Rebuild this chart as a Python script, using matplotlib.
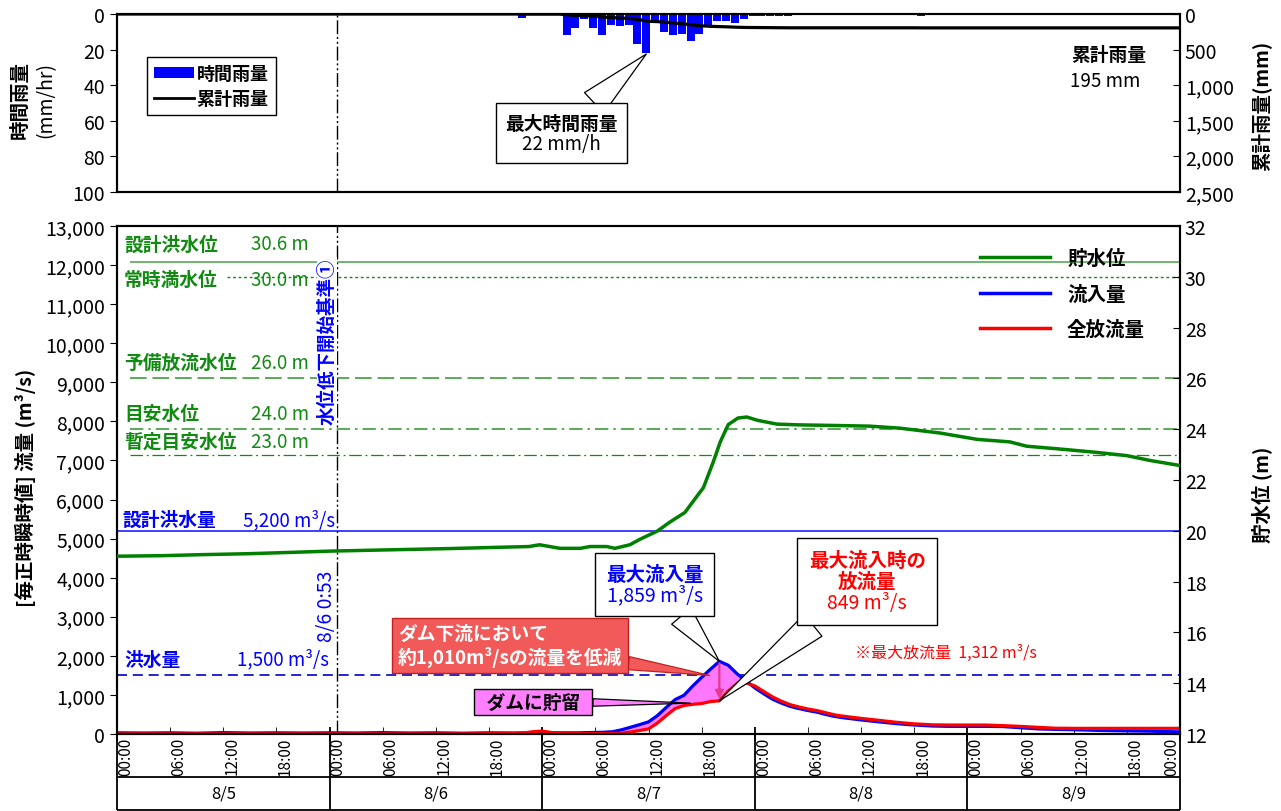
import numpy as np
import matplotlib.pyplot as plt
from matplotlib.patches import Patch
from matplotlib.lines import Line2D
from matplotlib.text import Text
from matplotlib.transforms import IdentityTransform
from matplotlib.ticker import FuncFormatter, MultipleLocator

plt.rcParams['font.family'] = ['Noto Sans CJK JP', 'DejaVu Sans']

# ---------------- data ----------------
# hourly rainfall (hour index from 8/5 00:00, mm)
rain_hours = [45, 50, 51, 52, 53, 54, 55, 56, 57, 58, 59, 60, 61, 62, 63, 64,
              65, 66, 67, 68, 69, 70, 71, 72, 73, 74, 75, 90]
rain_mm = [2, 12, 8, 3, 8, 12, 6, 7, 6, 17, 22, 4, 10, 12, 11, 15,
           11, 7, 4, 4, 5, 3, 1, 1, 1, 1, 1, 1]

# reservoir water level (m)
level_hours = [0, 5, 9.5, 15, 20.5, 24, 32, 37.5, 43, 46.5, 47.7, 50, 52.3, 53.4,
               55.3, 56.2, 57.9, 59, 61, 62.4, 64.1, 66.2, 67.3, 68.1, 69, 70.1,
               71.1, 72.3, 74.5, 77, 80.5, 85, 88.4, 92.9, 97.1, 100.8, 102.7,
               106.1, 110.2, 114, 116.6, 120]
level_m = [19.0, 19.02, 19.06, 19.1, 19.16, 19.2, 19.26, 19.3, 19.35, 19.38, 19.45,
           19.31, 19.31, 19.38, 19.38, 19.31, 19.45, 19.66, 19.99, 20.34, 20.72,
           21.7, 22.7, 23.5, 24.18, 24.44, 24.48, 24.35, 24.2, 24.17, 24.15, 24.12,
           24.04, 23.85, 23.6, 23.5, 23.33, 23.23, 23.1, 22.96, 22.77, 22.57]

# inflow / total outflow (m3/s)
flow_hours = [0, 3, 6, 9, 12, 15, 18, 21, 24, 27, 30, 33, 36, 39, 42, 45,
              46, 47, 48, 49, 50, 52, 54, 55, 56, 57, 58, 59, 60,
              61, 62, 63, 64, 65, 66, 67, 68, 69,
              70, 71, 72, 73, 74, 75, 76, 77, 78, 79, 80, 81, 82,
              84, 86, 88, 90, 92, 94, 96, 98, 100, 102, 104, 106, 108,
              111, 114, 117, 120]
inflow = [30, 25, 30, 20, 35, 25, 30, 25, 30, 25, 35, 25, 30, 20, 30, 25,
          30, 35, 35, 30, 30, 30, 40, 45, 60, 110, 175, 240, 310,
          470, 680, 880, 990, 1230, 1450, 1660, 1859, 1760,
          1540, 1360, 1180, 1030, 890, 790, 705, 650, 600, 560, 500, 450, 415,
          360, 310, 265, 230, 205, 195, 195, 195, 190, 160, 130, 118, 110,
          90, 80, 70, 55]
outflow = [5, 5, 5, 5, 5, 5, 5, 5, 5, 5, 5, 5, 5, 5, 10, 15,
           30, 60, 75, 40, 15, 10, 10, 10, 15, 20, 50, 90, 130,
           280, 470, 650, 730, 760, 780, 830, 849, 1100,
           1290, 1312, 1230, 1090, 950, 840, 750, 690, 640, 600, 545, 490, 455,
           400, 350, 300, 260, 235, 230, 230, 230, 215, 195, 170, 148, 145,
           145, 145, 145, 145]

level_names = ['設計洪水位', '常時満水位', '予備放流水位', '目安水位', '暫定目安水位']
level_values = [30.6, 30.0, 26.0, 24.0, 23.0]
flood_names = ['設計洪水量', '洪水量']
flood_values = [5200, 1500]

days = ['8/5', '8/6', '8/7', '8/8', '8/9']
hour_labels = ['00:00', '06:00', '12:00', '18:00']
lowering_start = 24 + 53 / 60   # 8/6 0:53
peak_hour = 68
max_rain_hour = 59
reduction = 1010

GREEN = '#118a11'
LGREEN = '#3c9c3c'
BLUE = '#0000ff'
RED = '#ff0000'

fig = plt.figure(figsize=(12.81, 8.12), dpi=100)
L = 117 / 1281
W = (1180 - 117) / 1281
ax_r = fig.add_axes([L, 1 - 193 / 812, W, 178 / 812])
ax = fig.add_axes([L, 1 - 735 / 812, W, 508 / 812])
ax_t = fig.add_axes([L, 1 - 811 / 812, W, 76 / 812])

overlays = []


def callout(axis, xy, box_xy, lines, color, weights, size, tail, pad=0.45,
            fc='white', ec='black'):
    # box + wedge sized with full-width blanks, real lines are laid over it later
    width = max(sum(1 for c in ln if ord(c) > 0x2000) for ln in lines)
    blank = '\n'.join(['\u3000' * width] * len(lines))
    ann = axis.annotate(blank, xy=xy, xytext=box_xy, ha='center', va='center',
                        fontsize=size, fontweight='bold',
                        bbox=dict(boxstyle='square,pad=%s' % pad, fc=fc, ec=ec, lw=1),
                        arrowprops=dict(arrowstyle='wedge,tail_width=%s,shrink_factor=0.5' % tail,
                                        fc=fc, ec=ec, lw=0.9, shrinkA=0, shrinkB=0),
                        zorder=6)
    overlays.append((ann, lines, color, weights, size))


# ---------------- rainfall panel ----------------
ax_r.bar(np.array(rain_hours) + 0.75, rain_mm, width=0.9, color=BLUE, zorder=2)
ax_r.set_xlim(0, 120)
ax_r.set_ylim(100, 0)
ax_r.set_yticks(range(0, 101, 20))
ax_r.set_xticks([])
ax_r.tick_params(axis='y', labelsize=14, direction='out', length=5)
ax_r.axvline(lowering_start, color='black', lw=1, ls=(0, (10, 2, 1.5, 2, 1.5, 2)))

rain_full = np.zeros(120)
rain_full[rain_hours] = rain_mm
cum = np.concatenate([[0], np.cumsum(rain_full)])
ax_rc = ax_r.twinx()
ax_rc.plot(np.arange(121), cum, color='black', lw=2.3)
ax_rc.set_ylim(2500, 0)
ax_rc.set_yticks(range(0, 2501, 500))
ax_rc.yaxis.set_major_formatter(FuncFormatter(lambda v, p: f'{int(v):,}'))
ax_rc.tick_params(axis='y', labelsize=14, direction='in', length=5)
for a in (ax_r, ax_rc):
    for s in a.spines.values():
        s.set_linewidth(1.5)

ax_r.legend(handles=[Patch(facecolor=BLUE, label='時間雨量'),
                     Line2D([], [], color='black', lw=2, label='累計雨量')],
            loc='upper left', bbox_to_anchor=(0.028, 0.76), fancybox=False,
            edgecolor='black', framealpha=1, prop={'weight': 'bold', 'size': 13},
            handlelength=2.2, handleheight=0.5, handletextpad=0.15,
            borderpad=0.4, labelspacing=0.35, borderaxespad=0)

ax_r.text(111.9, 22.5, '累計雨量', ha='center', va='center', fontsize=13.5, fontweight='bold')
ax_r.text(111.6, 37.6, f'{int(cum[-1])} mm', ha='center', va='center', fontsize=13.5)

callout(ax_r, (max_rain_hour + 0.75, rain_mm[rain_hours.index(max_rain_hour)] + 0.5),
        (50.2, 67), ['最大時間雨量', f'{max(rain_mm)} mm/h'], 'black',
        ['bold', 'normal'], 13.5, 1.5, pad=0.5)

# ---------------- flow / water level panel ----------------
ax.set_xlim(0, 120)
ax.set_ylim(0, 13000)
ax.set_yticks(range(0, 13001, 1000))
ax.yaxis.set_major_formatter(FuncFormatter(lambda v, p: f'{int(v):,}'))
ax.tick_params(axis='y', labelsize=14, direction='out', length=5)
ax.xaxis.set_major_locator(MultipleLocator(24))
ax.xaxis.set_minor_locator(MultipleLocator(6))
ax.tick_params(axis='x', which='major', direction='inout', length=10, width=1.3, labelbottom=False)
ax.tick_params(axis='x', which='minor', direction='in', length=5, labelbottom=False)

fh = np.array(flow_hours, dtype=float)
qin = np.array(inflow, dtype=float)
qout = np.array(outflow, dtype=float)
ax.fill_between(fh, qin, qout, where=(qin >= qout) & (fh >= 56) & (fh <= 72),
                interpolate=True, color='#ff78ff', lw=0, zorder=2)
ax.plot(fh, qin, color=BLUE, lw=2.3, zorder=3)
ax.plot(fh, qout, color=RED, lw=2.3, zorder=4)

ax.axhline(flood_values[0], color='#1f1fff', lw=1.2, zorder=1)
ax.axhline(flood_values[1], color='#0000c8', lw=1.2, ls=(0, (6, 3.5)), zorder=1)
ax.text(0.6, 5490, flood_names[0], color=BLUE, fontsize=13.5, va='center', fontweight='bold')
ax.text(14.2, 5490, f'{flood_values[0]:,} m³/s', color=BLUE, fontsize=13.5, va='center')
ax.text(0.8, 1915, flood_names[1], color=BLUE, fontsize=13.5, va='center', fontweight='bold')
ax.text(13.6, 1915, f'{flood_values[1]:,} m³/s', color=BLUE, fontsize=13.5, va='center')

ax.axvline(lowering_start, color='black', lw=1, ls=(0, (10, 2, 1.5, 2, 1.5, 2)), zorder=1)

ax.annotate('', xy=(peak_hour, 900), xytext=(peak_hour, 1810),
            arrowprops=dict(arrowstyle='-|>', color='#e8388c', lw=1.6, mutation_scale=12,
                            shrinkA=0, shrinkB=0), zorder=5)

callout(ax, (peak_hour, max(inflow)), (60.7, 3830),
        ['最大流入量', f'{max(inflow):,} m³/s'], BLUE, ['bold', 'normal'], 14, 1.3, pad=0.55)
callout(ax, (peak_hour, outflow[flow_hours.index(peak_hour)]), (84.7, 3900),
        ['最大流入時の', '放流量', f'{outflow[flow_hours.index(peak_hour)]} m³/s'], RED,
        ['bold', 'bold', 'normal'], 14, 1.45, pad=0.6)

ax.annotate(f'ダム下流において\n約{reduction:,}m³/sの流量を低減', xy=(66.9, 1500), xytext=(44.4, 2270),
            ha='center', va='center', multialignment='left', fontsize=13.5, fontweight='bold',
            color='white',
            bbox=dict(boxstyle='square,pad=0.3', fc='#f25a5a', ec='#c02020', lw=1),
            arrowprops=dict(arrowstyle='wedge,tail_width=0.7,shrink_factor=0.5',
                            fc='#f25a5a', ec='#c02020', lw=0.9, shrinkA=0, shrinkB=0),
            zorder=6)
ax.annotate('  ダムに貯留  ', xy=(64.7, 790), xytext=(47, 817),
            ha='center', va='center', fontsize=13.5, fontweight='bold', color='black',
            bbox=dict(boxstyle='square,pad=0.2', fc='#ff80ff', ec='black', lw=1),
            arrowprops=dict(arrowstyle='wedge,tail_width=0.4,shrink_factor=0.5',
                            fc='#ff80ff', ec='black', lw=0.9, shrinkA=0, shrinkB=0),
            zorder=6)
ax.text(83.3, 2090, f'※最大放流量  {max(outflow):,} m³/s', color=RED, fontsize=11.5,
        va='center', ha='left')

# water level axis
ax2 = ax.twinx()
ax2.set_ylim(12, 32)
ax2.set_yticks(range(12, 33, 2))
ax2.tick_params(axis='y', labelsize=14, direction='in', length=5)
ax2.plot(level_hours, level_m, color='#008000', lw=2.5, zorder=4)

level_styles = [('-', 1.2, '#55aa55', 1.5), ((0, (2, 2)), 1.0, GREEN, 12.4),
                ((0, (10, 3.5)), 1.2, LGREEN, 1.5), ((0, (8, 3, 1.5, 3)), 1.2, LGREEN, 1.5),
                ((0, (10, 3, 1.5, 3)), 0.9, GREEN, 1.5)]
label_dy = [0.7, -0.12, 0.62, 0.61, 0.51]
for nm, v, (st, lw, col, x0), dy in zip(level_names, level_values, level_styles, label_dy):
    ax2.hlines(v, x0, 120, colors=col, lw=lw, linestyles=[st], zorder=1)
    ax2.text(0.8, v + dy, nm, color=GREEN, fontsize=13.5, va='center', fontweight='bold')
    ax2.text(15.1, v + dy, f'{v:.1f} m', color=GREEN, fontsize=13.5, va='center')

ax2.text(23.7, 27.48, '水位低下開始基準①', rotation=90, color=BLUE, fontsize=13.3,
         fontweight='bold', ha='center', va='center',
         bbox=dict(boxstyle='square,pad=0.05', fc='white', ec='none'), zorder=5)
ax2.text(23.7, 17.05, '8/6 0:53', rotation=90, color=BLUE, fontsize=14,
         ha='center', va='center', zorder=5)

ax2.legend(handles=[Line2D([], [], color='#008000', lw=2.5, label='貯水位'),
                    Line2D([], [], color=BLUE, lw=2.5, label='流入量'),
                    Line2D([], [], color=RED, lw=2.5, label='全放流量')],
           loc='upper left', bbox_to_anchor=(0.795, 0.99), frameon=False,
           prop={'weight': 'bold', 'size': 14}, handlelength=3.6, labelspacing=0.85,
           handletextpad=0.9)

for a in (ax, ax2):
    for s in a.spines.values():
        s.set_linewidth(1.5)

# ---------------- time / date table ----------------
ax_t.set_xlim(0, 120)
ax_t.set_ylim(0, 1)
ax_t.axis('off')
sep = (811 - 778) / 76
ax_t.vlines(range(0, 121, 24), 0, 1, colors='black', lw=1.3, clip_on=False)
ax_t.hlines([0, sep], 0, 120, colors='black', lw=1.3, clip_on=False)
for h in range(0, 121, 6):
    ax_t.text(h, 0.97, hour_labels[(h // 6) % 4], rotation=90, ha='left' if h < 120 else 'right',
              va='top', fontsize=11)
for i, d in enumerate(days):
    ax_t.text(12 + 24 * i, sep / 2, d, ha='center', va='center', fontsize=12)

# ---------------- axis titles ----------------
fig.text(20 / 1281, 1 - 100 / 812, '時間雨量', rotation=90, ha='center', va='center',
         fontsize=14, fontweight='bold')
fig.text(46 / 1281, 1 - 100 / 812, '(mm/hr)', rotation=90, ha='center', va='center', fontsize=14)
fig.text(1261 / 1281, 1 - 106 / 812, '累計雨量(mm)', rotation=90, ha='center', va='center',
         fontsize=14, fontweight='bold')
fig.text(25 / 1281, 1 - 488 / 812, '[毎正時瞬時値] 流量 (m³/s)', rotation=90, ha='center',
         va='center', fontsize=14, fontweight='bold')
fig.text(1262 / 1281, 1 - 495 / 812, '貯水位 (m)', rotation=90, ha='center', va='center',
         fontsize=14, fontweight='bold')

# lay the callout lines over their boxes, each with its own weight
fig.canvas.draw()
renderer = fig.canvas.get_renderer()
for ann, lines, color, weights, size in overlays:
    bb = Text.get_window_extent(ann, renderer)
    n = len(lines)
    for i, (line, w) in enumerate(zip(lines, weights)):
        y = bb.y1 - bb.height * (2 * i + 1) / (2 * n)
        fig.text(bb.x0 + bb.width / 2, y, line, transform=IdentityTransform(), ha='center',
                 va='center', fontsize=size, fontweight=w, color=color, zorder=10)

fig.savefig('out.png', dpi=100)
